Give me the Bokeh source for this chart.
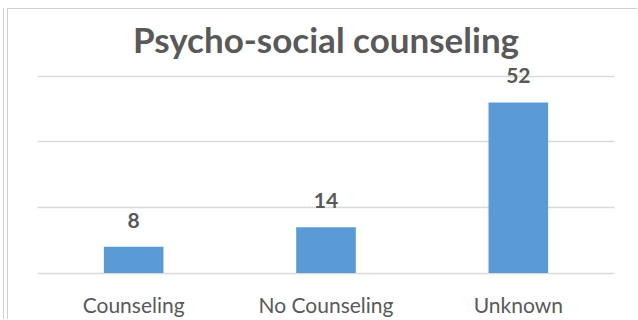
from bokeh.plotting import figure
from bokeh.models import ColumnDataSource, LabelSet, Range1d, FixedTicker, Title
from bokeh.core.properties import value
from bokeh.embed import file_html
from bokeh.resources import INLINE

categories = ["Counseling", "No Counseling", "Unknown"]
values = [8, 14, 52]
y_ticks = [0, 20, 40, 60]

TEXT = "#595959"
BAR = "#5B9BD5"
GRID = "#d9d9d9"
FONT = "Lato"

src = ColumnDataSource(dict(cat=categories, val=values, lab=[str(v) for v in values]))

p = figure(x_range=categories, y_range=Range1d(-2.25, 64.8), width=630, height=311,
           output_backend="svg", toolbar_location=None,
           min_border_left=29, min_border_right=24, min_border_top=51, min_border_bottom=40)
p.styles = {"margin-left": "7px", "margin-top": "8px",
            "border-left": "1px solid #d0d0d0", "border-top": "1px solid #d0d0d0",
            "box-shadow": "-3px 0 0 0 #ffffff, -4px 0 0 0 #d0d0d0"}
p.x_range.range_padding = 0
p.outline_line_color = None
p.background_fill_color = "white"
p.border_fill_color = "white"

p.vbar(x="cat", top="val", width=0.31, source=src, color=BAR, line_color=None)

labels = LabelSet(x="cat", y="val", text="lab", source=src, text_align="center",
                  text_baseline="alphabetic", y_offset=19, text_font=value(FONT),
                  text_font_style="bold", text_font_size="21px", text_color=TEXT)
p.add_layout(labels)

p.add_layout(Title(text="Psycho-social counseling", align="center", text_font=FONT,
                   text_font_size="35px", text_font_style="bold", text_color=TEXT,
                   standoff=2), "above")

p.ygrid.ticker = FixedTicker(ticks=y_ticks)
p.ygrid.grid_line_color = GRID
p.ygrid.grid_line_width = 1.5
p.xgrid.grid_line_color = None
p.yaxis.visible = False

xa = p.xaxis[0]
xa.axis_line_color = None
xa.major_tick_line_color = None
xa.minor_tick_line_color = None
xa.major_label_text_font = FONT
xa.major_label_text_font_size = "21px"
xa.major_label_text_color = TEXT
xa.major_label_standoff = 5

open("out.html", "w").write(file_html(p, INLINE))
